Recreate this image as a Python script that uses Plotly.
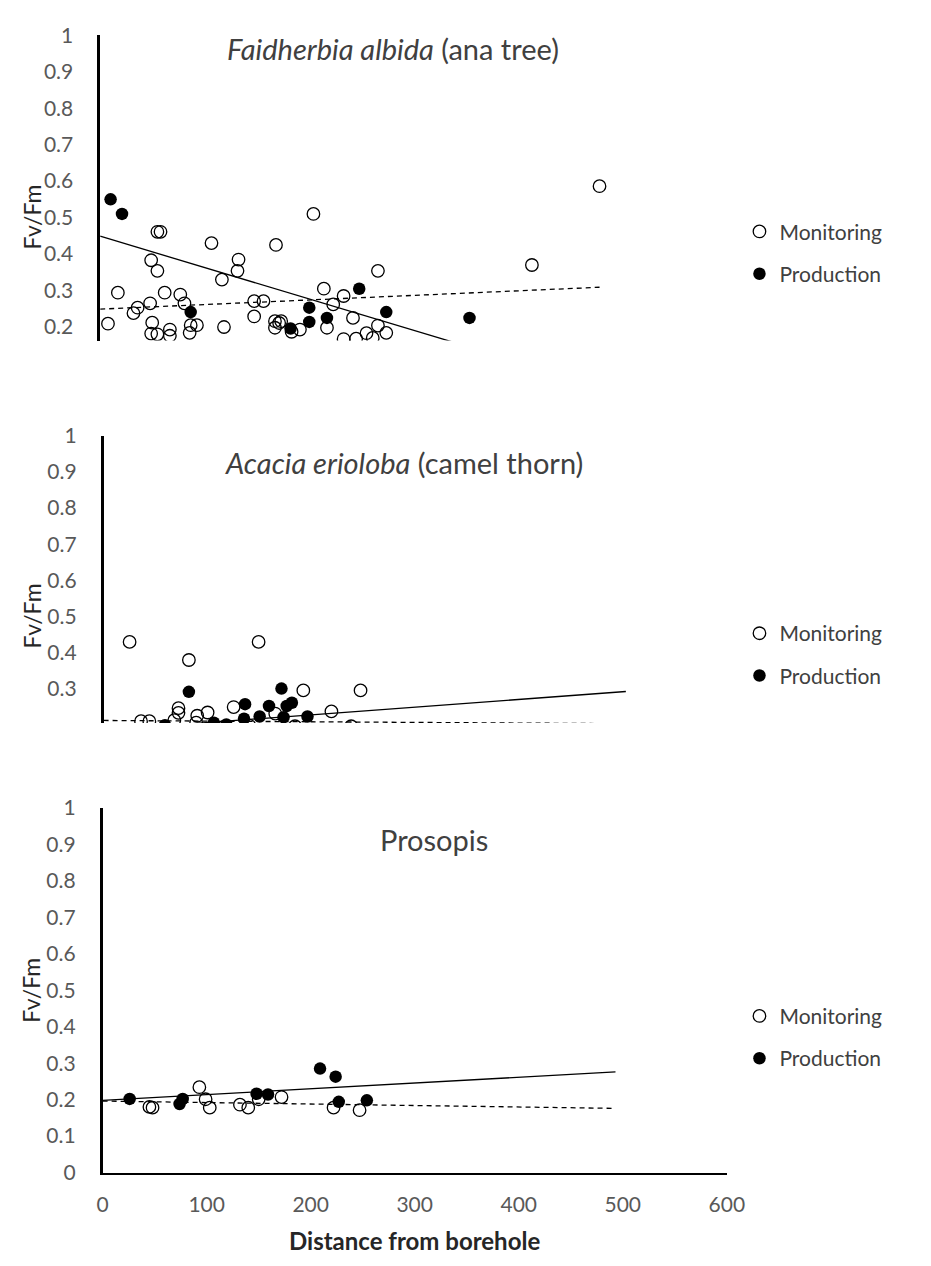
import plotly.graph_objects as go

# page is 931x1266; the html body has an 8px margin, so the figure is 16px smaller
OFF = 8
W, H = 931 - 2 * OFF, 1266 - 2 * OFF

# ---------------- data ----------------
# Panel 1: Faidherbia albida
fa_mon_x = [7.5, 17, 32, 36, 48, 49, 55, 55, 58, 50, 49, 55, 62, 67, 67, 77, 81, 87, 93, 86,
            107, 117, 119, 133, 132, 148, 157, 148, 169, 168, 174, 168, 172, 184, 192, 205, 215,
            218, 224, 234, 234, 243, 246, 256, 262, 267, 267, 275, 415, 480]
fa_mon_y = [0.209, 0.294, 0.238, 0.253, 0.265, 0.383, 0.354, 0.461, 0.461, 0.212, 0.182, 0.180,
            0.294, 0.193, 0.176, 0.289, 0.265, 0.205, 0.205, 0.184, 0.430, 0.330, 0.200, 0.385,
            0.354, 0.271, 0.271, 0.229, 0.425, 0.216, 0.216, 0.198, 0.211, 0.187, 0.193, 0.510,
            0.305, 0.198, 0.262, 0.285, 0.167, 0.225, 0.168, 0.183, 0.170, 0.354, 0.204, 0.184,
            0.370, 0.586]
fa_pro_x = [10, 21, 87, 183, 201, 201, 218, 249, 275, 355]
fa_pro_y = [0.550, 0.510, 0.241, 0.196, 0.253, 0.214, 0.225, 0.305, 0.241, 0.225]

# Panel 2: Acacia erioloba
ae_mon_x = [25, 82, 149, 192, 247, 219, 72, 72, 90, 100, 125, 36, 44, 68, 89, 165, 238, 184, 140]
ae_mon_y = [0.430, 0.380, 0.430, 0.296, 0.296, 0.238, 0.247, 0.234, 0.226, 0.235, 0.250, 0.211,
            0.211, 0.214, 0.207, 0.232, 0.197, 0.197, 0.199]
ae_pro_x = [59, 82, 106, 118, 136, 135, 150, 159, 171, 176, 181, 173, 196]
ae_pro_y = [0.200, 0.292, 0.207, 0.202, 0.258, 0.218, 0.224, 0.253, 0.301, 0.253, 0.262, 0.222, 0.224]

# Panel 3: Prosopis
pr_mon_x = [45, 48, 93, 99, 103, 132, 140, 150, 172, 222, 247]
pr_mon_y = [0.180, 0.178, 0.234, 0.201, 0.178, 0.186, 0.178, 0.201, 0.207, 0.178, 0.171]
pr_pro_x = [26, 74, 77, 148, 159, 209, 224, 227, 254]
pr_pro_y = [0.202, 0.188, 0.202, 0.216, 0.214, 0.285, 0.263, 0.194, 0.198]

# Trendlines: [x_start, x_end], [y_start, y_end]
fa_mon_trend_x, fa_mon_trend_y = [0, 480], [0.249, 0.309]
fa_pro_trend_x, fa_pro_trend_y = [0, 355], [0.449, 0.145]
ae_mon_trend_x, ae_mon_trend_y = [0, 500], [0.213, 0.204]
ae_pro_trend_x, ae_pro_trend_y = [0, 502], [0.186, 0.293]
pr_mon_trend_x, pr_mon_trend_y = [0, 493], [0.196, 0.176]
pr_pro_trend_x, pr_pro_trend_y = [0, 493], [0.198, 0.276]

titles = ["<i>Faidherbia albida</i> (ana tree)", "<i>Acacia erioloba</i> (camel thorn)", "Prosopis"]
y_tickvals = [0, 0.1, 0.2, 0.3, 0.4, 0.5, 0.6, 0.7, 0.8, 0.9, 1]
y_ticktext = ["0", "0.1", "0.2", "0.3", "0.4", "0.5", "0.6", "0.7", "0.8", "0.9", "1"]
x_tickvals = [0, 100, 200, 300, 400, 500, 600]
x_ticktext = ["0", "100", "200", "300", "400", "500", "600"]

FONT = "Lato"
TICK_C = "#595959"
TXT_C = "#404040"

def px(x):
    return (x - OFF) / W

def py(y):
    return 1 - (y - OFF) / H

# panel geometry in page pixels: (left, right, top, bottom), y-range
panels = [
    dict(l=96.5, r=737.5, t=21.5, b=333, yr=[0.163, 1.0]),
    dict(l=100, r=741, t=430, b=723.3, yr=[0.206, 1.0]),
    dict(l=99, r=740, t=810, b=1182, yr=[0.0, 1.0]),
]
data = [
    (fa_mon_x, fa_mon_y, fa_pro_x, fa_pro_y, fa_mon_trend_x, fa_mon_trend_y, fa_pro_trend_x, fa_pro_trend_y),
    (ae_mon_x, ae_mon_y, ae_pro_x, ae_pro_y, ae_mon_trend_x, ae_mon_trend_y, ae_pro_trend_x, ae_pro_trend_y),
    (pr_mon_x, pr_mon_y, pr_pro_x, pr_pro_y, pr_mon_trend_x, pr_mon_trend_y, pr_pro_trend_x, pr_pro_trend_y),
]
title_pos = [(397, 35), (409, 457), (439, 842)]
ytitle_pos = [207, 614, 996]
legend_mid = [243.5, 653.5, 1044]

fig = go.Figure()
layout = dict(
    width=W, height=H, margin=dict(l=0, r=0, t=0, b=0),
    paper_bgcolor="white", plot_bgcolor="white",
    font=dict(family=FONT, color=TICK_C), annotations=[],
)

for i, (p, d) in enumerate(zip(panels, data)):
    n = "" if i == 0 else str(i + 1)
    xa, ya = "x" + n, "y" + n
    lg = "legend" + n
    mx, my, prx, pry, mtx, mty, ptx, pty = d
    fig.add_trace(go.Scatter(x=mtx, y=mty, mode="lines", xaxis=xa, yaxis=ya, showlegend=False,
                             line=dict(color="black", width=1.3, dash="5px,4px"), hoverinfo="skip"))
    fig.add_trace(go.Scatter(x=ptx, y=pty, mode="lines", xaxis=xa, yaxis=ya, showlegend=False,
                             line=dict(color="black", width=1.3), hoverinfo="skip"))
    fig.add_trace(go.Scatter(x=mx, y=my, mode="markers", name="Monitoring", xaxis=xa, yaxis=ya,
                             legend=lg, legendgroup="m" + n,
                             marker=dict(symbol="circle-open", size=12.5, color="black",
                                         line=dict(width=1.3, color="black"))))
    fig.add_trace(go.Scatter(x=prx, y=pry, mode="markers", name="Production", xaxis=xa, yaxis=ya,
                             legend=lg, legendgroup="p" + n,
                             marker=dict(symbol="circle", size=12.5, color="black",
                                         line=dict(width=0))))
    last = (i == 2)
    layout["xaxis" + n] = dict(
        domain=[px(p["l"]), px(p["r"])], range=[0, 600], anchor=ya,
        showgrid=False, zeroline=False, showline=last, linecolor="black", linewidth=2,
        showticklabels=last, tickvals=x_tickvals, ticktext=x_ticktext, ticks="",
        tickfont=dict(family=FONT, size=21, color=TICK_C), ticklabelstandoff=12,
        fixedrange=True,
    )
    layout["yaxis" + n] = dict(
        domain=[py(p["b"]), py(p["t"])], range=p["yr"], anchor=xa,
        showgrid=False, zeroline=False, showline=True, linecolor="black", linewidth=2.5,
        tickvals=y_tickvals, ticktext=y_ticktext, ticks="",
        tickfont=dict(family=FONT, size=21, color=TICK_C), ticklabelstandoff=20,
        fixedrange=True,
    )
    layout[lg] = dict(
        x=px(753), y=py(legend_mid[i]), xanchor="left", yanchor="middle",
        font=dict(family=FONT, size=21, color=TXT_C), bgcolor="rgba(0,0,0,0)",
        tracegroupgap=12, itemwidth=30,
    )
    tx, ty = title_pos[i]
    layout["annotations"].append(dict(
        text=titles[i], x=px(tx), y=py(ty), xref="paper", yref="paper",
        xanchor="center", yanchor="middle", showarrow=False,
        font=dict(family=FONT, size=29, color=TXT_C)))
    layout["annotations"].append(dict(
        text="Fv/Fm", x=px(26), y=py(ytitle_pos[i]), xref="paper", yref="paper",
        xanchor="center", yanchor="middle", showarrow=False, textangle=-90,
        font=dict(family=FONT, size=23, color="#262626")))

layout["annotations"].append(dict(
    text="<b>Distance from borehole</b>", x=px(419), y=py(1251), xref="paper", yref="paper",
    xanchor="center", yanchor="middle", showarrow=False,
    font=dict(family=FONT, size=24, color="#262626")))

fig.update_layout(**layout)
fig.write_html("out.html")
